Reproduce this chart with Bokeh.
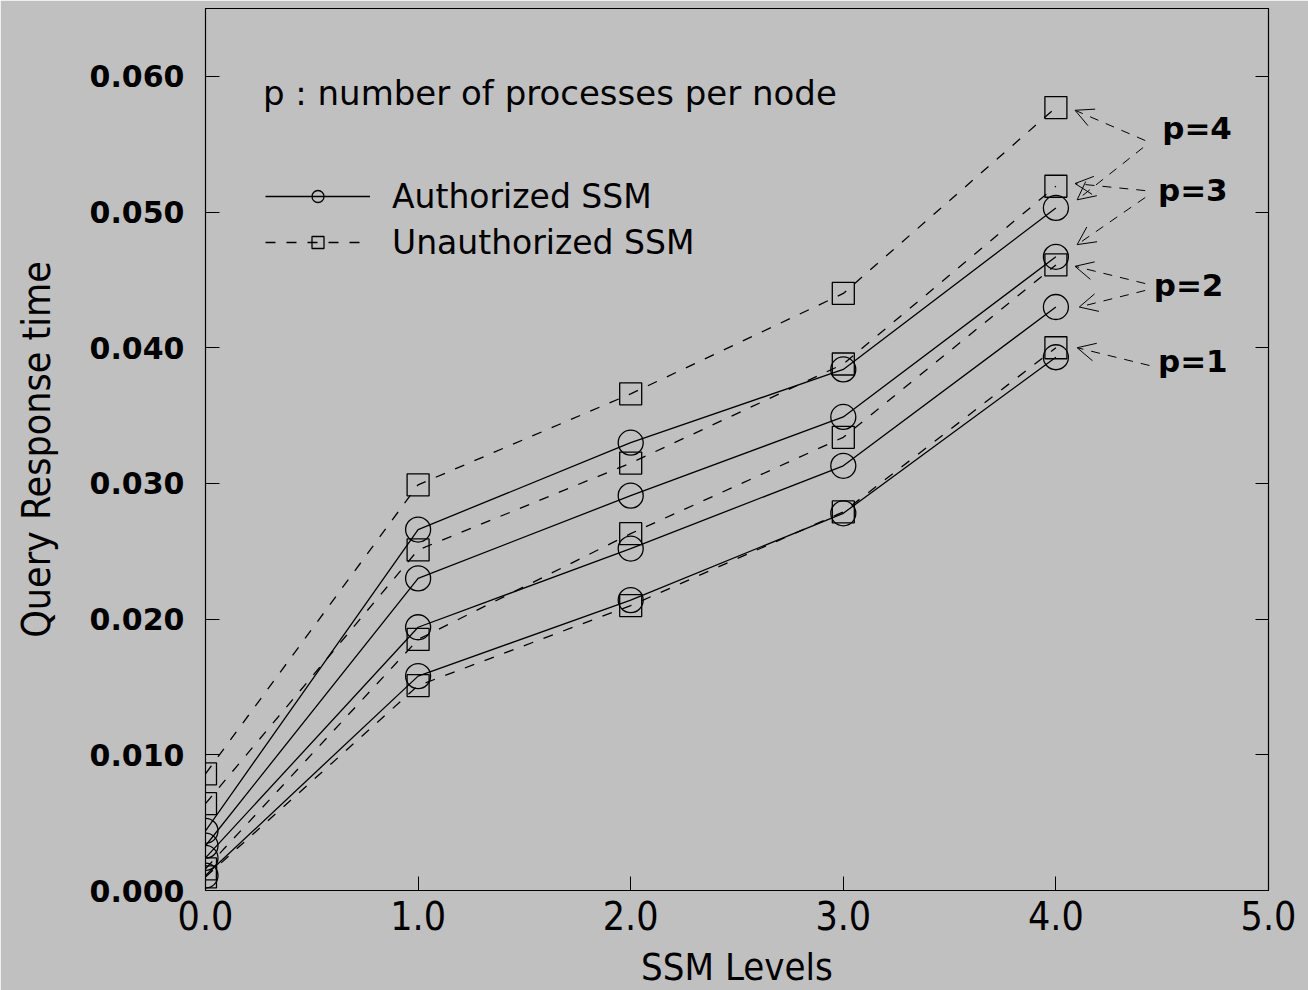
from bokeh.plotting import figure
from bokeh.models import (Range1d, FixedTicker, NumeralTickFormatter, LinearAxis,
                          Legend, LegendItem, Label, Arrow, OpenHead)
from bokeh.embed import file_html
from bokeh.resources import INLINE

# ---------------- data ----------------
levels = [0, 1, 2, 3, 4]
procs = [1, 2, 3, 4]

auth_p1 = [0.0011, 0.0158, 0.0214, 0.0278, 0.0393]
auth_p2 = [0.0024, 0.0194, 0.0252, 0.0313, 0.0430]
auth_p3 = [0.0033, 0.0230, 0.0291, 0.0349, 0.0467]
auth_p4 = [0.0044, 0.0266, 0.0330, 0.0384, 0.0503]

unauth_p1 = [0.0010, 0.0151, 0.0210, 0.0279, 0.0400]
unauth_p2 = [0.0016, 0.0185, 0.0263, 0.0334, 0.0461]
unauth_p3 = [0.0064, 0.0251, 0.0315, 0.0388, 0.0519]
unauth_p4 = [0.0086, 0.0299, 0.0366, 0.0440, 0.0577]

auth = [auth_p1, auth_p2, auth_p3, auth_p4]
unauth = [unauth_p1, unauth_p2, unauth_p3, unauth_p4]

x_ticks = [0, 1, 2, 3, 4, 5]
y_ticks = [0.0, 0.01, 0.02, 0.03, 0.04, 0.05, 0.06]

BG = "#c0c0c0"
NARROW = "'Liberation Sans Narrow', 'DejaVu Sans Condensed', 'Roboto Condensed', sans-serif"

p = figure(frame_width=1063, frame_height=882,
           min_border_left=205, min_border_right=40, min_border_top=8, min_border_bottom=100,
           x_range=Range1d(0, 5), y_range=Range1d(0, 0.065),
           output_backend="svg", toolbar_location=None)
p.background_fill_color = BG
p.border_fill_color = BG
p.outline_line_color = "black"
p.outline_line_width = 1.2
p.grid.visible = False

# axes
xa = p.xaxis[0]
xa.ticker = FixedTicker(ticks=x_ticks)
xa.formatter = NumeralTickFormatter(format="0.0")
xa.axis_label = "SSM Levels"
xa.axis_label_text_font = NARROW
xa.axis_label_text_font_size = "38px"
xa.axis_label_text_font_style = "normal"
xa.axis_label_text_color = "black"
xa.axis_label_standoff = 12
xa.major_label_text_font = NARROW
xa.major_label_text_font_size = "39px"
xa.major_label_text_color = "black"
xa.major_label_standoff = 10
xa.major_tick_in = 14
xa.major_tick_out = 0
xa.minor_tick_line_color = None
xa.axis_line_color = "black"
xa.major_tick_line_color = "black"

ya = p.yaxis[0]
ya.ticker = FixedTicker(ticks=y_ticks)
ya.formatter = NumeralTickFormatter(format="0.000")
ya.axis_label = "Query Response time"
ya.axis_label_text_font = NARROW
ya.axis_label_text_font_size = "39px"
ya.axis_label_text_font_style = "normal"
ya.axis_label_text_color = "black"
ya.axis_label_standoff = 28
ya.major_label_text_font = "DejaVu Sans"
ya.major_label_text_font_style = "bold"
ya.major_label_text_font_size = "30px"
ya.major_label_text_color = "black"
ya.major_label_standoff = 21
ya.major_tick_in = 14
ya.major_tick_out = 0
ya.minor_tick_line_color = None
ya.axis_line_color = "black"

ra = LinearAxis(ticker=FixedTicker(ticks=y_ticks), major_label_text_font_size="1px",
                major_label_text_color=None,
                major_tick_in=13, major_tick_out=0, minor_tick_line_color=None,
                major_label_standoff=0)
p.add_layout(ra, "right")

# series
auth_lines, auth_marks, un_lines, un_marks = [], [], [], []
for a, u in zip(auth, unauth):
    l1 = p.line(levels, a, line_color="black", line_width=1.3)
    m1 = p.scatter(levels, a, marker="circle", size=25, fill_alpha=0,
                   line_color="black", line_width=1.3)
    l2 = p.line(levels, u, line_color="black", line_width=1.3, line_dash="10 11")
    m2 = p.scatter(levels, u, marker="square", size=22, fill_alpha=0,
                   line_color="black", line_width=1.3)
    auth_lines.append(l1); auth_marks.append(m1)
    un_lines.append(l2); un_marks.append(m2)

legend = Legend(items=[
    LegendItem(label="Authorized SSM", renderers=[auth_lines[0], auth_marks[0]]),
    LegendItem(label="Unauthorized SSM", renderers=[un_lines[0], un_marks[0]]),
], location=(60, 628), orientation="vertical",
    glyph_width=105, glyph_height=30, label_height=40, spacing=6,
    padding=0, margin=0, label_standoff=22,
    label_text_font="DejaVu Sans", label_text_font_size="33px",
    label_text_color="black",
    background_fill_alpha=0, border_line_color=None)
p.add_layout(legend)

p.add_layout(Label(x=0.27, y=0.0588, text="p : number of processes per node",
                   text_font="DejaVu Sans", text_font_size="34px",
                   text_color="black", text_baseline="alphabetic"))

# p=k labels with arrows
label_pos = {4: (4.50, 0.0562), 3: (4.48, 0.0516), 2: (4.46, 0.0446), 1: (4.48, 0.0390)}
for k in procs:
    lx, ly = label_pos[k]
    p.add_layout(Label(x=lx, y=ly, text=f"p={k}", text_font="DejaVu Sans",
                       text_font_style="bold", text_font_size="31px",
                       text_color="black", text_baseline="alphabetic"))

arrow_specs = [
    # (start_x, start_y, end_x, end_y)
    (4.42, 0.05527, levels[4] + 0.09, unauth_p4[4] - 0.0002),
    (4.41, 0.05475, levels[4] + 0.10, auth_p4[4] + 0.0006),
    (4.42, 0.05158, levels[4] + 0.09, unauth_p3[4] + 0.0002),
    (4.42, 0.05107, levels[4] + 0.10, auth_p3[4] + 0.0009),
    (4.42, 0.04473, levels[4] + 0.09, unauth_p2[4] - 0.0001),
    (4.42, 0.04422, levels[4] + 0.11, auth_p2[4]),
    (4.44, 0.03869, levels[4] + 0.10, unauth_p1[4]),
]
for sx, sy, ex, ey in arrow_specs:
    p.add_layout(Arrow(end=OpenHead(size=18, line_width=1, line_color="black"),
                       x_start=sx, y_start=sy, x_end=ex, y_end=ey,
                       line_dash="9 8", line_width=1, line_color="black"))

open("out.html", "w").write(file_html(p, INLINE))
